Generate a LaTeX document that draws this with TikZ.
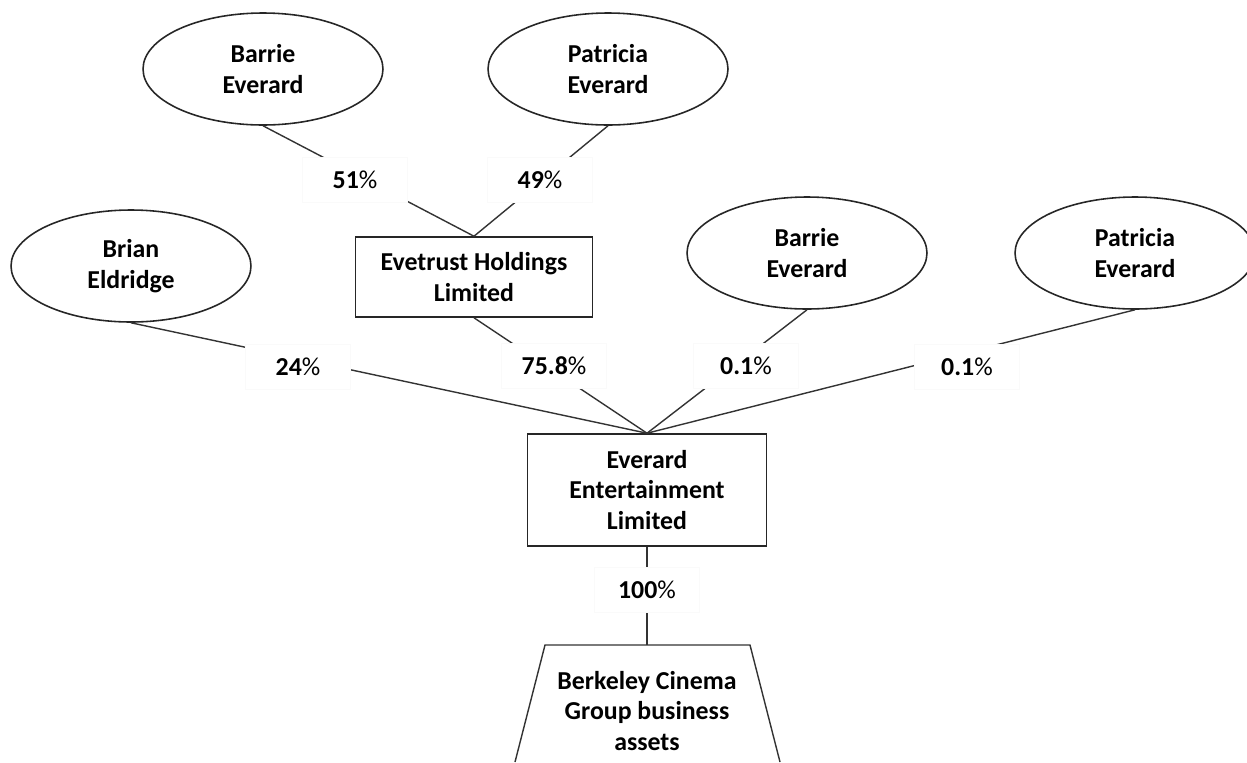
\documentclass[tikz,border=0pt]{standalone}
\usepackage{fontspec}
\setmainfont{Carlito}
\usetikzlibrary{shapes.geometric}

\newcommand{\pct}{{\mdseries\%}}

\begin{document}
\begin{tikzpicture}[x=0.02cm,y=-0.02cm,
	every node/.style={font=\fontsize{14.7}{17.6}\selectfont\bfseries,align=center},
	owner/.style={draw=black!85,ellipse,line width=0.9pt,minimum width=4.8cm,minimum height=2.24cm,inner sep=0pt},
	company/.style={draw=black!85,rectangle,line width=0.9pt,inner sep=0pt},
	share/.style={fill=white,draw=black!2,minimum width=2.1cm,minimum height=0.9cm,inner sep=0pt},
	link/.style={draw=black!80,line width=0.8pt}]
	\useasboundingbox (0,0) rectangle (1247,762);

	% The shareholders
	\node[owner] (barrie1) at (263,69) {Barrie\\Everard};
	\node[owner] (patricia1) at (608,69) {Patricia\\Everard};
	\node[owner] (brian) at (131,266) {Brian\\Eldridge};
	\node[owner] (barrie2) at (807,253) {Barrie\\Everard};
	\node[owner] (patricia2) at (1135,253) {Patricia\\Everard};

	% The companies
	\node[company,minimum width=4.74cm,minimum height=1.6cm] (evetrust) at (474,277) {Evetrust Holdings\\Limited};
	\node[company,minimum width=4.78cm,minimum height=2.24cm] (everard) at (647,490) {Everard\\Entertainment\\Limited};

	% The assets (cut off at the bottom)
	\coordinate (assets top) at (647,645);
	\draw[link] (515,762) -- (545,645) -- (750,645) -- (780,762);
	\node (assets) at (647,711) {Berkeley Cinema\\Group business\\assets};

	% The holdings
	\foreach \src/\dst in {barrie1/evetrust,patricia1/evetrust,brian/everard,evetrust/everard,barrie2/everard,patricia2/everard}
	{
		\draw[link] (\src.south) -- (\dst.north);
	}
	\draw[link] (everard.south) -- (assets top);

	% The percentages
	\node[share] (p51) at (355,180) {51\pct};
	\node[share] (p49) at (540,180) {49\pct};
	\node[share] (p24) at (298,367) {24\pct};
	\node[share] (p758) at (554,366) {75.8\pct};
	\node[share] (p01a) at (746,366) {0.1\pct};
	\node[share] (p01b) at (967,367) {0.1\pct};
	\node[share] (p100) at (647,590) {100\pct};
\end{tikzpicture}
\end{document}
